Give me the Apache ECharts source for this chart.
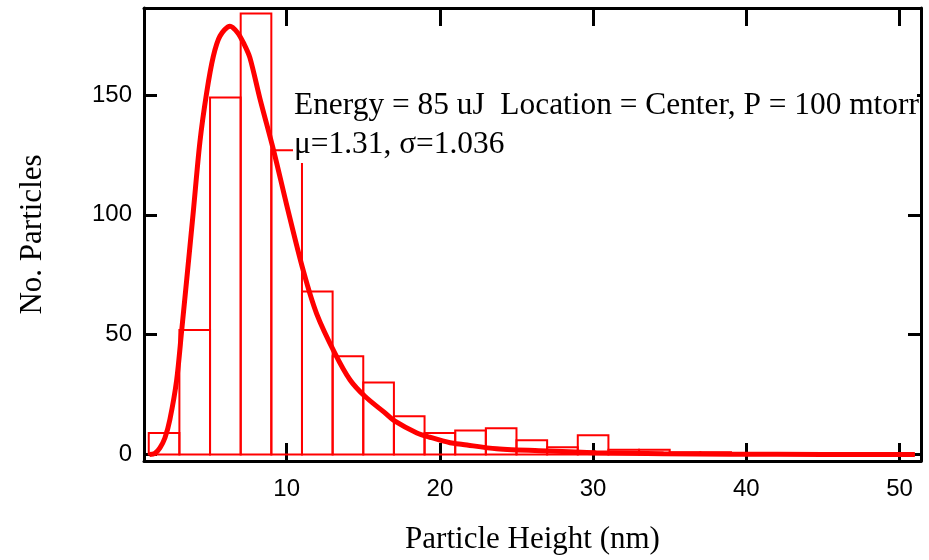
<!DOCTYPE html>
<html>
<head>
<meta charset="utf-8">
<script src="https://cdn.jsdelivr.net/npm/echarts@6/dist/echarts.min.js"></script>
<style>
html,body{margin:0;padding:0;background:#fff;}
#chart{width:929px;height:560px;}
</style>
</head>
<body>
<div id="chart"></div>
<script>
// Histogram bins (nm) and counts
const binStarts = [1,3,5,7,9,11,13,15,17,19,21,23,25,27,29,31,33,35,37,39,41,43,45,47,49];
const binWidth = 2;
const counts = [9,52,149,184,127,68,41,30,16,9,10,11,6,3,8,2,2,1,1,0,0,0,0,0,0];

// Fitted log-normal curve
const fitX = [1.05,1.4,1.73,2.06,2.38,2.82,3.15,3.47,3.91,4.34,4.78,5.21,5.65,6.3,6.8,7.2,7.6,8.26,9.17,10.0,11.09,11.96,13.16,14.14,15.12,16.3,17.07,18.5,19.36,20.67,21.5,23.7,27,30.2,34.6,39,45,51];
const fitY = [0,0.5,2.8,7,14.6,31,51.8,72.5,101.5,130.5,151,166,174.6,178.7,176,171.5,165.6,148.4,126.3,104.2,76.6,58.7,42.1,31.1,24.2,18,13.9,9,7.2,4.9,4.2,2.4,1.45,0.75,0.3,0.1,0.05,0];

const xTicks = [10,20,30,40,50];
const yTicks = [0,50,100,150];

const xLabel = 'Particle Height (nm)';
const yLabel = 'No. Particles';
const noteLine1 = 'Energy = 85 uJ  Location = Center, P = 100 mtorr';
const noteLine2 = 'μ=1.31, σ=1.036';

const histData = binStarts.map((s, i) => [s, s + binWidth, counts[i]]);
const fitData = fitX.map((x, i) => [x, fitY[i]]);

const chart = echarts.init(document.getElementById('chart'), null, {renderer: 'canvas'});

const axisLineStyle = {color: '#000', width: 3};
const tickLabelFont = {fontFamily: 'Liberation Sans', fontSize: 24, color: '#000'};

const option = {
  animation: false,
  backgroundColor: '#fff',
  grid: {left: 144, right: 8, top: 8, bottom: 95, containLabel: false},
  xAxis: [
    {
      type: 'value', position: 'bottom', min: 0.69, max: 51.4,
      axisLine: {show: true, onZero: false, lineStyle: axisLineStyle},
      axisTick: {show: true, inside: true, length: 18, lineStyle: {color: '#000', width: 3}, customValues: xTicks},
      axisLabel: Object.assign({show: true, margin: 16, customValues: xTicks}, tickLabelFont),
      splitLine: {show: false},
      name: xLabel, nameLocation: 'middle', nameGap: 63,
      nameTextStyle: {fontFamily: 'Liberation Serif', fontSize: 31, color: '#000'}
    },
    {
      type: 'value', position: 'top', min: 0.69, max: 51.4,
      axisLine: {show: true, onZero: false, lineStyle: axisLineStyle},
      axisTick: {show: true, inside: true, length: 18, lineStyle: {color: '#000', width: 3}, customValues: xTicks},
      axisLabel: {show: false},
      splitLine: {show: false}
    }
  ],
  yAxis: [
    {
      type: 'value', position: 'left', min: -2.7, max: 186.3,
      axisLine: {show: true, onZero: false, lineStyle: axisLineStyle},
      axisTick: {show: true, inside: true, length: 13, lineStyle: {color: '#000', width: 3}, customValues: yTicks},
      axisLabel: Object.assign({show: true, margin: 12, customValues: yTicks}, tickLabelFont),
      splitLine: {show: false},
      name: yLabel, nameLocation: 'middle', nameGap: 96,
      nameTextStyle: {fontFamily: 'Liberation Serif', fontSize: 31, color: '#000'}
    },
    {
      type: 'value', position: 'right', min: -2.7, max: 186.3,
      axisLine: {show: true, onZero: false, lineStyle: axisLineStyle},
      axisTick: {show: true, inside: true, length: 13, lineStyle: {color: '#000', width: 3}, customValues: yTicks},
      axisLabel: {show: false},
      splitLine: {show: false}
    }
  ],
  series: [
    {
      type: 'custom',
      xAxisIndex: 0, yAxisIndex: 0,
      data: histData,
      encode: {x: [0, 1], y: 2},
      z: 2,
      renderItem: function (params, api) {
        const p0 = api.coord([api.value(0), api.value(2)]);
        const p1 = api.coord([api.value(1), 0]);
        return {
          type: 'rect',
          shape: {x: p0[0], y: p0[1], width: p1[0] - p0[0], height: p1[1] - p0[1]},
          style: {fill: 'none', stroke: '#ff0000', lineWidth: 2}
        };
      }
    },
    {
      type: 'line',
      xAxisIndex: 0, yAxisIndex: 0,
      data: fitData,
      showSymbol: false,
      symbol: 'none',
      smooth: 0.3,
      z: 3,
      lineStyle: {color: '#ff0000', width: 5}
    }
  ],
  graphic: [
    {
      type: 'rect', z: 100,
      shape: {x: 293, y: 86, width: 624, height: 77},
      style: {fill: '#fff'}
    },
    {
      type: 'text', z: 101, left: 294, top: 90,
      style: {text: noteLine1, font: '31.4px "Liberation Serif"', fill: '#000'}
    },
    {
      type: 'text', z: 101, left: 294, top: 129,
      style: {text: noteLine2, font: '31.4px "Liberation Serif"', fill: '#000'}
    }
  ]
};
chart.setOption(option);
</script>
</body>
</html>
